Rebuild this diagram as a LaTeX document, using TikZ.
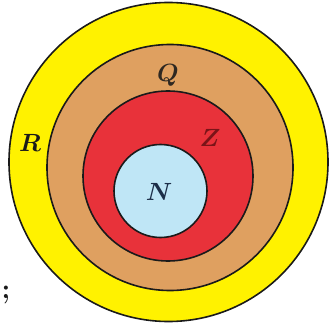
\documentclass[tikz,border=0pt]{standalone}
\usepackage{tikz}
\usepackage{amsmath}
\usepackage{bm}
\definecolor{Ink}{HTML}{1A1A1A}
\definecolor{SetR}{HTML}{FFF200}
\definecolor{SetQ}{HTML}{DFA060}
\definecolor{SetZ}{HTML}{E8323A}
\definecolor{SetN}{HTML}{BFE6F6}
\definecolor{ZText}{HTML}{7A1418}
\definecolor{NText}{HTML}{1C2E48}

\begin{document}
\begin{tikzpicture}[x=1pt,y=1pt]
\useasboundingbox (0,0) rectangle (329,327);
\filldraw[fill=SetR,draw=Ink,line width=1.6pt] (168.5,165.0) circle (159.5);
\filldraw[fill=SetQ,draw=Ink,line width=1.6pt] (170.0,159.5) circle (123.0);
\filldraw[fill=SetZ,draw=Ink,line width=1.6pt] (168.0,151.0) circle (85.0);
\filldraw[fill=SetN,draw=Ink,line width=1.6pt] (160.5,136.0) circle (46.5);
\node[font=\fontsize{30}{32}\selectfont,text=Ink] (labR) at (30,184) {$\bm{R}$};
\node[font=\fontsize{30}{32}\selectfont,text=Ink!90!SetQ] (labQ) at (168,252) {$\bm{Q}$};
\node[font=\fontsize{30}{32}\selectfont,text=ZText] (labZ) at (210,189) {$\bm{Z}$};
\node[font=\fontsize{30}{32}\selectfont,text=NText] (labN) at (159,135) {$\bm{N}$};
\node[font=\fontsize{28}{30}\selectfont\bfseries,text=Ink] (semi) at (6,32) {;};
\end{tikzpicture}
\end{document}
